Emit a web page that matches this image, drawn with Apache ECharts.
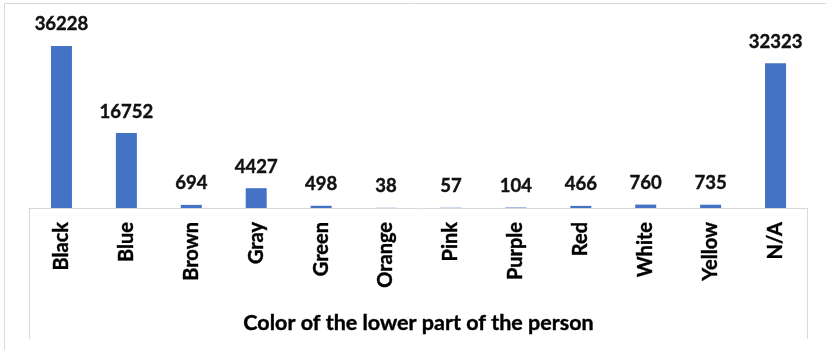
<!DOCTYPE html>
<html>
<head>
<meta charset="utf-8">
<script src="https://cdn.jsdelivr.net/npm/echarts@6/dist/echarts.min.js"></script>
<style>
  html, body { margin: 0; padding: 0; background: #fff; }
  #chart { width: 826px; height: 350px; }
</style>
</head>
<body>
<div id="chart"></div>
<script>
// Lower-body clothing colour counts
const categories = ['Black', 'Blue', 'Brown', 'Gray', 'Green', 'Orange', 'Pink', 'Purple', 'Red', 'White', 'Yellow', 'N/A'];
const counts = [36228, 16752, 694, 4427, 498, 38, 57, 104, 466, 760, 735, 32323];
const axisTitle = 'Color of the lower part of the person';

const FONT = 'Lato, "Noto Sans", sans-serif';
const chart = echarts.init(document.getElementById('chart'), null, { renderer: 'canvas' });

const gridLeft = 29, gridRight = 18, gridTop = 29, gridBottom = 142;
const W = 826, H = 350;
const axisY = H - gridBottom;

chart.setOption({
  animation: false,
  backgroundColor: '#ffffff',
  grid: { left: gridLeft, right: gridRight, top: gridTop, bottom: gridBottom, containLabel: false },
  xAxis: {
    type: 'category',
    data: categories,
    axisLine: { show: true, lineStyle: { color: '#d9d9d9', width: 1 } },
    axisTick: { show: false },
    axisLabel: {
      rotate: 90,
      margin: 14,
      interval: 0,
      color: '#000000',
      fontFamily: FONT,
      fontWeight: 'bold',
      fontSize: 20,
      textBorderColor: '#000000',
      textBorderWidth: 0.4
    },
    name: axisTitle,
    nameLocation: 'middle',
    nameGap: 104,
    nameTextStyle: {
      color: '#000000',
      fontFamily: FONT,
      fontWeight: 'bold',
      fontSize: 21.5,
      verticalAlign: 'top',
      textBorderColor: '#000000',
      textBorderWidth: 0.4
    }
  },
  yAxis: {
    type: 'value',
    min: 0,
    max: 40000,
    show: false,
    splitLine: { show: false }
  },
  series: [{
    type: 'bar',
    data: counts,
    barWidth: 21,
    itemStyle: { color: '#4472C4' },
    label: {
      show: true,
      position: 'top',
      distance: 12,
      color: '#111111',
      fontFamily: FONT,
      fontWeight: 'bold',
      fontSize: 18.5,
      textBorderColor: '#111111',
      textBorderWidth: 0.4
    }
  }],
  graphic: [
    // outer chart frame
    { type: 'rect', silent: true,
      shape: { x: 4.5, y: 3.5, width: W + 10, height: H + 10 },
      style: { fill: 'none', stroke: '#d9d9d9', lineWidth: 1 } },
    // side rules of the category label band
    { type: 'line', silent: true,
      shape: { x1: gridLeft + 0.5, y1: axisY, x2: gridLeft + 0.5, y2: 339 },
      style: { stroke: '#d9d9d9', lineWidth: 1 } },
    { type: 'line', silent: true,
      shape: { x1: W - gridRight - 0.5, y1: axisY, x2: W - gridRight - 0.5, y2: 339 },
      style: { stroke: '#d9d9d9', lineWidth: 1 } }
  ]
});
</script>
</body>
</html>
